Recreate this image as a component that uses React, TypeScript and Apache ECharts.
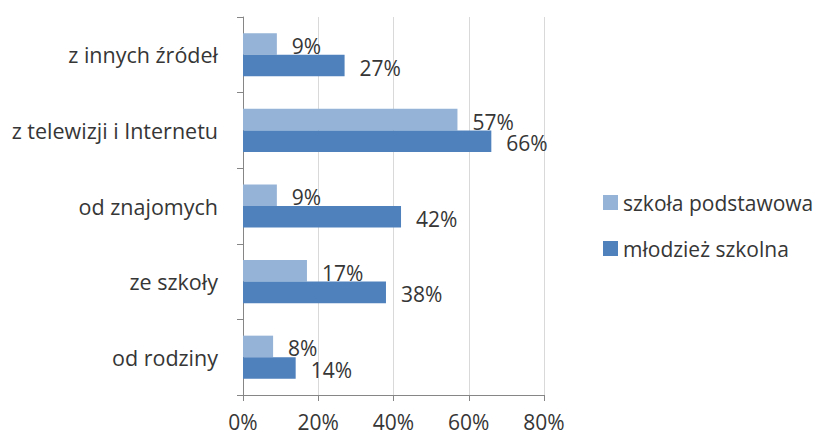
import React, { useEffect, useRef } from "react";
import * as echarts from "echarts";

const categories = ["od rodziny", "ze szkoły", "od znajomych", "z telewizji i Internetu", "z innych źródeł"];
const seriesNames = ["szkoła podstawowa", "młodzież szkolna"];
const szkolaPodstawowa = [8, 17, 9, 57, 9];
const mlodziezSzkolna = [14, 38, 42, 66, 27];
const xTicks = [0, 20, 40, 60, 80];

const FONT = "Open Sans";
const TEXT = "#363636";

export default function App() {
  const ref = useRef<HTMLDivElement>(null);
  useEffect(() => {
    if (!ref.current) return;
    const chart = echarts.init(ref.current, undefined, { renderer: "svg" });
    const label = {
      show: true,
      position: "right",
      distance: 15,
      offset: [0, 2],
      formatter: "{c}%",
      fontFamily: FONT,
      fontSize: 21,
      color: TEXT,
    };
    chart.setOption({
      animation: false,
      backgroundColor: "#ffffff",
      textStyle: { fontFamily: FONT },
      grid: { left: 243, right: 278, top: 17, bottom: 42, containLabel: false },
      legend: {
        orient: "vertical",
        left: 598,
        top: 187,
        itemWidth: 15,
        itemHeight: 15,
        itemGap: 25,
        icon: "rect",
        data: seriesNames,
        textStyle: { fontFamily: FONT, fontSize: 21, color: TEXT },
      },
      xAxis: {
        type: "value",
        min: xTicks[0],
        max: xTicks[xTicks.length - 1],
        interval: 20,
        axisLine: { show: true, lineStyle: { color: "#868686", width: 1 } },
        axisTick: { show: true, length: 6, lineStyle: { color: "#868686" } },
        axisLabel: { formatter: "{value}%", fontFamily: FONT, fontSize: 21, lineHeight: 22, color: TEXT, margin: 16 },
        splitLine: { show: true, lineStyle: { color: "#d9d9d9", width: 1 } },
      },
      yAxis: {
        type: "category",
        data: categories,
        axisLine: { show: true, lineStyle: { color: "#868686", width: 1 } },
        axisTick: { show: true, length: 6, lineStyle: { color: "#868686" } },
        axisLabel: { fontFamily: FONT, fontSize: 21.5, color: TEXT, margin: 25 },
        splitLine: { show: false },
      },
      series: [
        {
          name: seriesNames[0],
          type: "bar",
          data: szkolaPodstawowa,
          barGap: "0%",
          barCategoryGap: "43%",
          itemStyle: { color: "#95b3d7" },
          label,
        },
        {
          name: seriesNames[1],
          type: "bar",
          data: mlodziezSzkolna,
          barGap: "0%",
          barCategoryGap: "43%",
          itemStyle: { color: "#4f81bd" },
          label,
        },
      ],
    });
    return () => chart.dispose();
  }, []);
  return <div ref={ref} style={{ width: 822, height: 437, position: "absolute", left: 0, top: 0 }} />;
}
